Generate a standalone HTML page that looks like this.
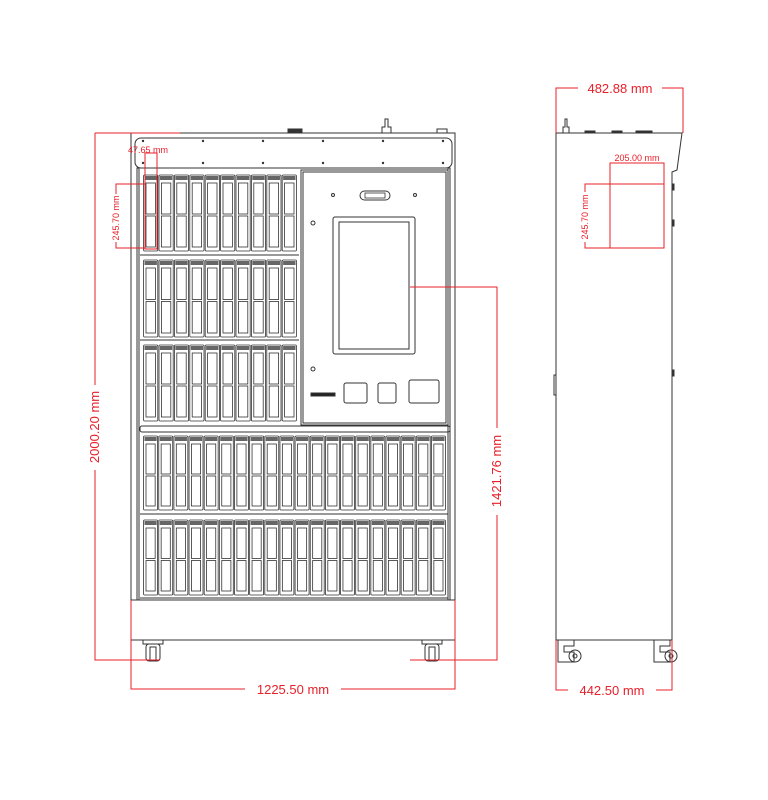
<!DOCTYPE html>
<html><head><meta charset="utf-8"><style>
html,body{margin:0;padding:0;background:#fff;}
svg{display:block;}
text{font-family:"Liberation Sans",sans-serif;fill:#e8202a;}
</style></head><body>
<svg id="s" width="768" height="800" viewBox="0 0 768 800" xmlns="http://www.w3.org/2000/svg">
<g fill="none" stroke="#333" stroke-width="1">
<!-- front cabinet -->
<rect x="131" y="133" width="324" height="507" />
<rect x="135" y="138" width="317" height="30" rx="6"/>
<rect x="137" y="168" width="2" height="432"/>
<rect x="448" y="168" width="2" height="432"/>
<line x1="131" y1="600" x2="455" y2="600"/>
<line x1="131" y1="640" x2="455" y2="640"/>
<rect x="301" y="170" width="147" height="255"/>
<rect x="303" y="172" width="143" height="251"/>
<rect x="140" y="426" width="310" height="6" rx="2"/>
<line x1="140" y1="255" x2="299" y2="255"/><line x1="140" y1="340" x2="299" y2="340"/>
<line x1="140" y1="514" x2="448" y2="514"/>
<line x1="140" y1="598" x2="448" y2="598"/>
<!-- top things -->
<rect x="288" y="129" width="14" height="4" fill="#333"/>
<path d="M382 133 v-6 h3 v-8 h3 v8 h3 v6" />
<rect x="437" y="129" width="10" height="4"/>
<!-- screen -->
<rect x="333" y="217" width="82" height="137" rx="2"/>
<rect x="339" y="222" width="70" height="127"/>
<rect x="360" y="191" width="30" height="9" rx="4.5"/>
<rect x="365" y="193" width="20" height="5" stroke-width="0.8"/>
<circle cx="313" cy="223" r="2"/><circle cx="313" cy="369" r="2"/>
<circle cx="333" cy="195" r="1.5"/><circle cx="415" cy="195" r="1.5"/>
<rect x="311" y="393" width="24" height="3" fill="#222"/>
<rect x="344" y="383" width="23" height="20" rx="2"/>
<rect x="378" y="383" width="18" height="20" rx="2"/>
<rect x="409" y="380" width="30" height="23" rx="2"/>
<!-- casters -->
<rect x="143" y="640" width="20" height="4"/><rect x="146" y="644" width="14" height="17" rx="3"/><rect x="150" y="647" width="6" height="13"/>
<rect x="422" y="640" width="20" height="4"/><rect x="425" y="644" width="14" height="17" rx="3"/><rect x="429" y="647" width="6" height="13"/>
<!-- side view -->
<path d="M556 133 H682 L677 170 L672 172 V640 H556 Z"/>
<line x1="556" y1="640" x2="672" y2="640"/>
<path d="M563 133 v-6 h2 v-8 h2 v8 h2 v6"/>
<rect x="585" y="131" width="10" height="2" fill="#333"/>
<rect x="612" y="131" width="10" height="2" fill="#333"/>
<rect x="636" y="131" width="16" height="2" fill="#333"/>
<rect x="672" y="184" width="2" height="6" fill="#333"/><rect x="672" y="220" width="2" height="6" fill="#333"/>
<rect x="672" y="370" width="2" height="6" fill="#333"/><rect x="554" y="375" width="2" height="20"/>
<path d="M558 640 h16 v6 h-10 v6 h10 v10 h-16 z"/><circle cx="575" cy="656" r="6"/><circle cx="575" cy="656" r="2"/>
<path d="M654 640 h16 v6 h-10 v6 h10 v10 h-16 z"/><circle cx="671" cy="656" r="6"/><circle cx="671" cy="656" r="2"/>
</g>
<g id="bays" fill="none" stroke="#333" stroke-width="0.8"></g>
<g fill="#333">
<circle cx="203" cy="141" r="1.2"/><circle cx="263" cy="141" r="1.2"/><circle cx="323" cy="141" r="1.2"/><circle cx="383" cy="141" r="1.2"/><circle cx="443" cy="141" r="1.2"/>
<circle cx="203" cy="163" r="1.2"/><circle cx="263" cy="163" r="1.2"/><circle cx="323" cy="163" r="1.2"/><circle cx="383" cy="163" r="1.2"/><circle cx="443" cy="163" r="1.2"/>
<circle cx="143" cy="141" r="1.2"/><circle cx="143" cy="163" r="1.2"/>
</g>
<!-- dimensions -->
<g fill="none" stroke="#e8202a" stroke-width="1">
<path d="M95 133 H180 M95 133 V385 M95 470 V660 H160"/>
<path d="M131 600 V689 H245 M341 689 H455 V600"/>
<path d="M410 287 H497 V428 M497 515 V660 H410"/>
<rect x="145" y="153" width="12" height="96"/>
<path d="M145 184 H116 V194 M116 242 V248 H145"/>
<path d="M556 133 V88 H578 M662 88 H683 V133"/>
<path d="M556 640 V690 H568 M656 690 H672 V640"/>
<rect x="610" y="163" width="54" height="85"/>
<path d="M664 184 H585 V192 M585 242 V248 H664"/>
</g>
<text x="128" y="153" font-size="9">47.65 mm</text>
<text transform="translate(119,218) rotate(-90)" font-size="9" text-anchor="middle">245.70 mm</text>
<text transform="translate(99,427) rotate(-90)" font-size="13" text-anchor="middle">2000.20 mm</text>
<text transform="translate(501,471) rotate(-90)" font-size="13" text-anchor="middle">1421.76 mm</text>
<text x="293" y="694" font-size="13" text-anchor="middle">1225.50 mm</text>
<text x="620" y="93" font-size="13" text-anchor="middle">482.88 mm</text>
<text x="612" y="695" font-size="13" text-anchor="middle">442.50 mm</text>
<text x="637" y="161" font-size="9" text-anchor="middle">205.00 mm</text>
<text transform="translate(588,217) rotate(-90)" font-size="9" text-anchor="middle">245.70 mm</text>
</svg>
<script>
var g=document.getElementById('bays'),ns='http://www.w3.org/2000/svg',h='';
function row(x0,x1,y,n,hh){var w=(x1-x0)/n;for(var i=0;i<n;i++){var x=x0+i*w;
h+='<rect x="'+(x+0.6)+'" y="'+y+'" width="'+(w-1.2)+'" height="'+hh+'" rx="1"/>';
h+='<rect x="'+(x+1.5)+'" y="'+(y+1)+'" width="'+(w-3)+'" height="4" fill="#666" stroke="none"/>';
h+='<rect x="'+(x+3)+'" y="'+(y+8)+'" width="'+(w-6)+'" height="'+((hh-14)/2)+'"/>';
h+='<rect x="'+(x+3)+'" y="'+(y+10+(hh-14)/2)+'" width="'+(w-6)+'" height="'+((hh-14)/2)+'"/>';}}
row(143,297,175,10,76);row(143,297,260,10,77);row(143,297,345,10,76);
row(143,446,436,20,74);row(143,446,520,20,75);
g.innerHTML=h;
</script>
</body></html>
